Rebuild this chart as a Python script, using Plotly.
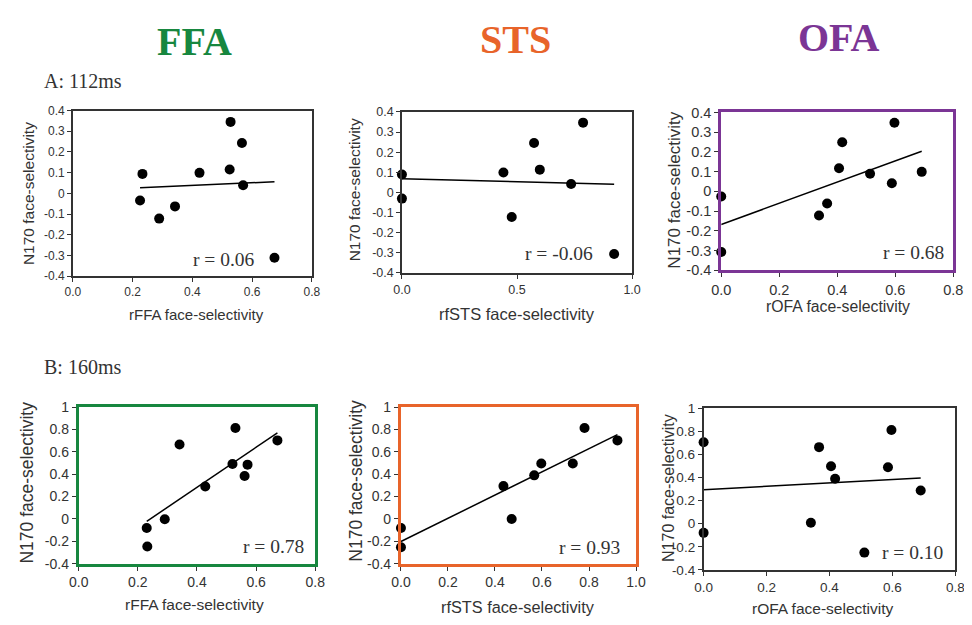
import numpy as np
import plotly.graph_objects as go

W, H = 972, 625

# ---------------- data ----------------
ffa_112_x = [0.233, 0.225, 0.289, 0.342, 0.424, 0.525, 0.528, 0.566, 0.570, 0.675]
ffa_112_y = [0.094, -0.035, -0.122, -0.063, 0.099, 0.115, 0.345, 0.243, 0.039, -0.311]
sts_112_x = [0.0, 0.0, 0.441, 0.477, 0.574, 0.599, 0.735, 0.787, 0.922]
sts_112_y = [0.089, -0.031, 0.099, -0.123, 0.246, 0.113, 0.042, 0.347, -0.307]
ofa_112_x = [0.0, 0.0, 0.337, 0.365, 0.406, 0.417, 0.513, 0.588, 0.597, 0.691]
ofa_112_y = [-0.026, -0.307, -0.122, -0.061, 0.117, 0.249, 0.089, 0.041, 0.348, 0.099]

ffa_160_x = [0.230, 0.232, 0.291, 0.341, 0.428, 0.520, 0.530, 0.571, 0.561, 0.672]
ffa_160_y = [-0.081, -0.247, -0.003, 0.666, 0.291, 0.491, 0.814, 0.486, 0.384, 0.703]
sts_160_x = [0.0, 0.0, 0.436, 0.471, 0.567, 0.597, 0.731, 0.781, 0.921]
sts_160_y = [-0.081, -0.253, 0.294, 0.0, 0.390, 0.497, 0.497, 0.814, 0.703]
ofa_160_x = [0.0, 0.0, 0.341, 0.367, 0.405, 0.418, 0.511, 0.586, 0.597, 0.690]
ofa_160_y = [0.705, -0.079, 0.008, 0.663, 0.497, 0.390, -0.250, 0.489, 0.812, 0.287]

r_labels = ["r = 0.06", "r = -0.06", "r = 0.68", "r = 0.78", "r = 0.93", "r = 0.10"]
x_titles = ["rFFA face-selectivity", "rfSTS face-selectivity", "rOFA face-selectivity",
            "rFFA face-selectivity", "rfSTS face-selectivity", "rOFA face-selectivity"]
y_title = "N170 face-selectivity"
region_titles = ["FFA", "STS", "OFA"]
row_labels = ["A: 112ms", "B: 160ms"]

x_ticks_08 = [0.0, 0.2, 0.4, 0.6, 0.8]
x_text_08 = ["0.0", "0.2", "0.4", "0.6", "0.8"]
x_ticks_10a = [0.0, 0.5, 1.0]
x_text_10a = ["0.0", "0.5", "1.0"]
x_ticks_10b = [0.0, 0.2, 0.4, 0.6, 0.8, 1.0]
x_text_10b = ["0.0", "0.2", "0.4", "0.6", "0.8", "1.0"]
y_ticks_a = [-0.4, -0.3, -0.2, -0.1, 0.0, 0.1, 0.2, 0.3, 0.4]
y_text_a = ["-0.4", "-0.3", "-0.2", "-0.1", "0", "0.1", "0.2", "0.3", "0.4"]
y_ticks_b = [-0.4, -0.2, 0.0, 0.2, 0.4, 0.6, 0.8, 1.0]
y_text_b = ["-0.4", "-0.2", "0", "0.2", "0.4", "0.6", "0.8", "1"]

# ---------------- styling / layout ----------------
GREEN = "#17873f"
ORANGE = "#e8642a"
PURPLE = "#7b3595"
DARK = "#333333"
SANS = "Liberation Sans, Arial, sans-serif"
SERIF = "Liberation Serif, Times New Roman, serif"
OFF = 8  # page body margin offset


def px_x(p):
    return (p - OFF) / W


def px_y(p):
    return 1 - (p - OFF) / H


panels = [
    dict(x=ffa_112_x, y=ffa_112_y, xr=[0, 0.8], yr=[-0.4, 0.4], xt=(x_ticks_08, x_text_08),
         yt=(y_ticks_a, y_text_a), box=(64, 308, 105, 275), border=(DARK, 1.5), tick=12,
         xts=15, yts=15.5, xtpos=(190, 314), ytpos=(19, 190), rpos=(218, 258)),
    dict(x=sts_112_x, y=sts_112_y, xr=[0, 1.0], yr=[-0.4, 0.4], xt=(x_ticks_10a, x_text_10a),
         yt=(y_ticks_a, y_text_a), box=(400, 635, 106.5, 271.5), border=(DARK, 1.5), tick=12.5,
         xts=16.5, yts=15.5, xtpos=(517, 314), ytpos=(352, 186), rpos=(560, 252)),
    dict(x=ofa_112_x, y=ofa_112_y, xr=[0, 0.8], yr=[-0.4, 0.4], xt=(x_ticks_08, x_text_08),
         yt=(y_ticks_a, y_text_a), box=(726, 963, 107, 269), border=(PURPLE, 3), tick=14.5,
         xts=15.8, yts=17, xtpos=(845, 306), ytpos=(678, 187), rpos=(922, 251)),
    dict(x=ffa_160_x, y=ffa_160_y, xr=[0, 0.8], yr=[-0.4, 1.0], xt=(x_ticks_08, x_text_08),
         yt=(y_ticks_b, y_text_b), box=(70, 311.5, 409.5, 570), border=(GREEN, 3), tick=14,
         xts=15.5, yts=17.5, xtpos=(188, 612), ytpos=(17, 487), rpos=(269, 552)),
    dict(x=sts_160_x, y=sts_160_y, xr=[0, 1.0], yr=[-0.4, 1.0], xt=(x_ticks_10b, x_text_10b),
         yt=(y_ticks_b, y_text_b), box=(399, 639, 409.5, 570), border=(ORANGE, 3), tick=14,
         xts=16.3, yts=17.5, xtpos=(518, 615), ytpos=(353, 485), rpos=(592, 553)),
    dict(x=ofa_160_x, y=ofa_160_y, xr=[0, 0.8], yr=[-0.4, 1.0], xt=(x_ticks_08, x_text_08),
         yt=(y_ticks_b, y_text_b), box=(708, 965, 410.5, 576.5), border=(DARK, 1.5), tick=13.5,
         xts=15.5, yts=16, xtpos=(830, 616), ytpos=(672, 492), rpos=(921, 559)),
]

fig = go.Figure()
annotations = []

for i, p in enumerate(panels):
    n = i + 1
    xa = "x" if n == 1 else f"x{n}"
    ya = "y" if n == 1 else f"y{n}"
    xs = np.array(p["x"], dtype=float)
    ys = np.array(p["y"], dtype=float)

    # least-squares trend line over the data range
    slope, intercept = np.polyfit(xs, ys, 1)
    lx = np.array([xs.min(), xs.max()])
    fig.add_trace(go.Scatter(x=lx, y=slope * lx + intercept, mode="lines",
                             line=dict(color="black", width=1.5), xaxis=xa, yaxis=ya,
                             showlegend=False, hoverinfo="skip", cliponaxis=False))
    fig.add_trace(go.Scatter(x=xs, y=ys, mode="markers",
                             marker=dict(color="black", size=10), xaxis=xa, yaxis=ya,
                             showlegend=False, cliponaxis=False))

    x0, x1, yt, yb = p["box"]
    bcol, bw = p["border"]
    common = dict(showgrid=False, zeroline=False, showline=True, mirror=True,
                  linecolor=bcol, linewidth=bw, ticks="outside", ticklen=4,
                  tickcolor=DARK, tickwidth=1,
                  tickfont=dict(family=SANS, size=p["tick"], color=DARK))
    fig.update_layout(**{
        ("xaxis" if n == 1 else f"xaxis{n}"): dict(
            domain=[px_x(x0), px_x(x1)], range=p["xr"], anchor=ya,
            tickmode="array", tickvals=p["xt"][0], ticktext=p["xt"][1], **common),
        ("yaxis" if n == 1 else f"yaxis{n}"): dict(
            domain=[px_y(yb), px_y(yt)], range=p["yr"], anchor=xa,
            tickmode="array", tickvals=p["yt"][0], ticktext=p["yt"][1], **common),
    })

    annotations.append(dict(text=x_titles[i], x=px_x(p["xtpos"][0]), y=px_y(p["xtpos"][1]),
                            xref="paper", yref="paper", showarrow=False,
                            xanchor="center", yanchor="middle",
                            font=dict(family=SANS, size=p["xts"], color=DARK)))
    annotations.append(dict(text=y_title, x=px_x(p["ytpos"][0]), y=px_y(p["ytpos"][1]),
                            xref="paper", yref="paper", showarrow=False, textangle=-90,
                            xanchor="center", yanchor="middle",
                            font=dict(family=SANS, size=p["yts"], color=DARK)))
    annotations.append(dict(text=r_labels[i], x=px_x(p["rpos"][0]), y=px_y(p["rpos"][1]),
                            xref="paper", yref="paper", showarrow=False,
                            xanchor="center", yanchor="middle",
                            font=dict(family=SERIF, size=19.5, color=DARK)))

title_pos = [(188, 34, GREEN), (516, 32, ORANGE), (846, 30, PURPLE)]
for t, (tx, ty, col) in zip(region_titles, title_pos):
    annotations.append(dict(text=t, x=px_x(tx), y=px_y(ty), xref="paper", yref="paper",
                            showarrow=False, xanchor="center", yanchor="middle",
                            font=dict(family=SERIF, size=40, color=col, weight="bold")))

for lbl, ly in zip(row_labels, [75, 368]):
    annotations.append(dict(text=lbl, x=px_x(32), y=px_y(ly), xref="paper", yref="paper",
                            showarrow=False, xanchor="left", yanchor="middle",
                            font=dict(family=SERIF, size=20, color=DARK)))

fig.update_layout(width=W, height=H, margin=dict(l=0, r=0, t=0, b=0),
                  paper_bgcolor="white", plot_bgcolor="white",
                  annotations=annotations, showlegend=False)

fig.write_html("out.html")
